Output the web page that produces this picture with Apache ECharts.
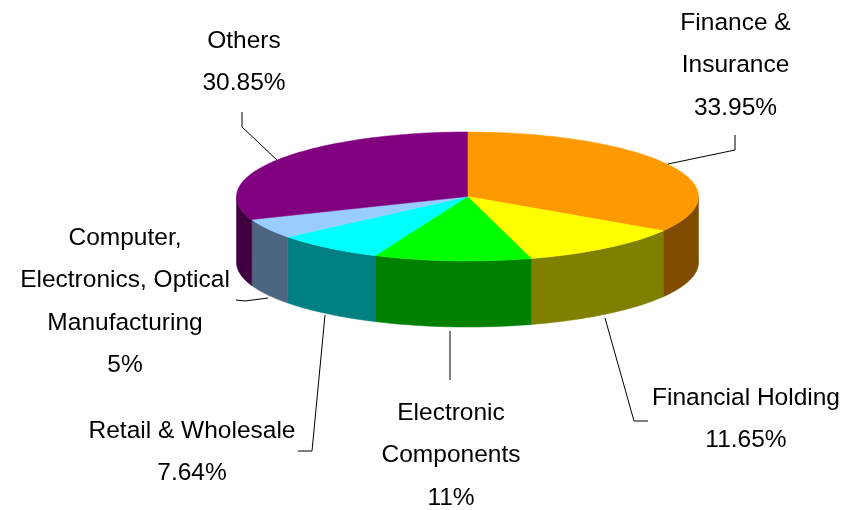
<!DOCTYPE html>
<html>
<head>
<meta charset="utf-8">
<title>Sector breakdown</title>
<style>html,body{margin:0;padding:0;background:#fff}#chart{width:858px;height:510px}</style>
<script src="https://cdn.jsdelivr.net/npm/echarts@6/dist/echarts.min.js"></script>
</head>
<body>
<div id="chart"></div>
<script>
// Slices, clockwise from twelve o'clock
const categories = ['Finance &\nInsurance', 'Financial Holding', 'Electronic\nComponents', 'Retail & Wholesale', 'Computer,\nElectronics, Optical\nManufacturing', 'Others'];
const shares = [33.95, 11.65, 11, 7.64, 5, 30.85];
const topColors = ['#FF9900', '#FFFF00', '#00FF00', '#00FFFF', '#99CCFF', '#800080'];
const wallColors = ['#804D00', '#808000', '#008000', '#008080', '#4D6680', '#400040'];

// Disc geometry in pixels
const disc = { cx: 467.5, cy: 196.5, rx: 231, ry: 64.5, depth: 66 };

// Centre of each label block, y of its first line
const labelAnchors = [[735.5, 23], [746, 398], [451, 413], [192, 431], [125, 238], [244, 41]];
const labelLineHeight = 42.4;

// Leader line of each label
const leaders = [
  [[668, 164], [735, 150], [735, 135]],
  [[605, 318], [634, 421], [648, 421]],
  [[450, 331], [450, 380]],
  [[325, 315], [312, 451], [298, 451]],
  [[268, 298], [245, 301], [236, 300]],
  [[242, 112], [242, 127], [277, 160]]
];

const total = shares.reduce((a, b) => a + b, 0);
const startAngles = [];
shares.reduce((acc, v, i) => { startAngles[i] = acc; return acc + v / total * 360; }, 0);

function rimPoint(deg, dy) {
  const t = deg * Math.PI / 180;
  return [disc.cx + disc.rx * Math.sin(t), disc.cy - disc.ry * Math.cos(t) + (dy || 0)];
}
function arc(from, to, dy) {
  const pts = [];
  const n = Math.max(2, Math.ceil(Math.abs(to - from) / 1.5));
  for (let i = 0; i <= n; i++) pts.push(rimPoint(from + (to - from) * i / n, dy));
  return pts;
}

function renderSlice(params, api) {
  const i = params.dataIndex;
  const from = startAngles[i];
  const to = from + api.value(0) / total * 360;
  const children = [];

  // Only the front half of the rim shows a wall
  const wFrom = Math.max(from, 90), wTo = Math.min(to, 270);
  if (wTo > wFrom) {
    children.push({
      type: 'polygon',
      shape: { points: arc(wFrom, wTo, 0).concat(arc(wTo, wFrom, disc.depth)) },
      style: { fill: wallColors[i], stroke: wallColors[i], lineWidth: 0.5 }
    });
  }

  children.push({
    type: 'polygon',
    z2: 2,
    shape: { points: [[disc.cx, disc.cy]].concat(arc(from, to, 0)) },
    style: { fill: topColors[i], stroke: topColors[i], lineWidth: 0.5 }
  });

  children.push({
    type: 'polyline',
    z2: 3,
    shape: { points: leaders[i] },
    style: { fill: null, stroke: '#000', lineWidth: 1 }
  });

  const lines = categories[i].split('\n').concat(api.value(0) + '%');
  lines.forEach((line, k) => {
    children.push({
      type: 'text',
      z2: 4,
      style: {
        text: line,
        x: labelAnchors[i][0],
        y: labelAnchors[i][1] + k * labelLineHeight,
        align: 'center',
        verticalAlign: 'middle',
        fill: '#000',
        font: '24.5px "Liberation Sans", Arial, sans-serif'
      }
    });
  });

  return { type: 'group', children };
}

const chart = echarts.init(document.getElementById('chart'), null, { renderer: 'canvas' });
chart.setOption({
  backgroundColor: '#fff',
  animation: false,
  series: [{
    type: 'custom',
    coordinateSystem: 'none',
    silent: true,
    renderItem: renderSlice,
    data: shares.map(v => [v])
  }]
});
</script>
</body>
</html>
